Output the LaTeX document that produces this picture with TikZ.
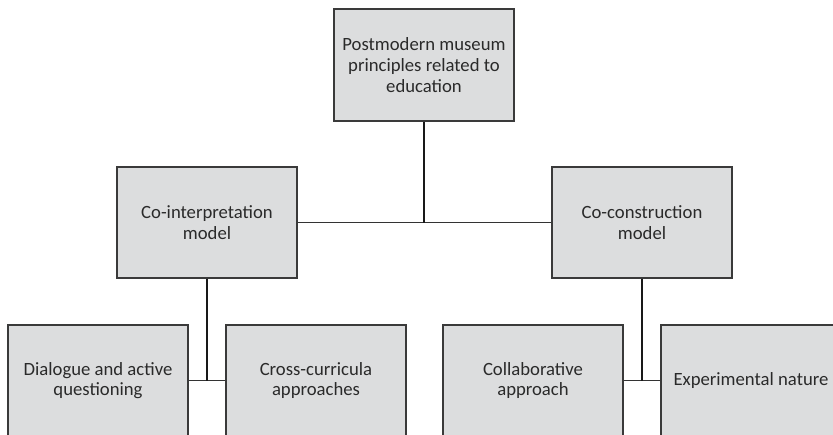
\documentclass[tikz,border=0pt]{standalone}
\usepackage{fontspec}
\setmainfont{Carlito}
\definecolor{boxfill}{HTML}{DCDDDE}
\definecolor{boxline}{HTML}{3A3A3A}
\definecolor{txt}{HTML}{2A2A2A}
\begin{document}
\begin{tikzpicture}[x=1pt,y=-1pt,
  box/.style={draw=boxline,fill=boxfill,line width=1.3pt,minimum width=180pt,minimum height=111pt,
    inner sep=0pt,align=center,text=txt,font=\fontsize{18.7}{20.7}\selectfont},
  vconn/.style={draw=black!90,line width=2pt},
  hconn/.style={draw=black!80,line width=1.4pt}]
\useasboundingbox (0,0) rectangle (833,434);
\fill[white] (0,0) rectangle (833,434);
\clip (0,0) rectangle (833,434);
\node[box,minimum height=112pt] (top) at (424,65) {Postmodern museum\\principles related to\\education};
\node[box] (ci) at (207,222.5) {Co-interpretation\\model};
\node[box] (cc) at (642,222.5) {Co-construction\\model};
\node[box] (dq) at (98,380.5) {Dialogue and active\\questioning};
\node[box] (cr) at (316,380.5) {Cross-curricula\\approaches};
\node[box] (co) at (533,380.5) {Collaborative\\approach};
\node[box] (ex) at (751,380.5) {Experimental nature};
\coordinate (j0) at (top.south |- ci.east);
\draw[hconn] (ci.east) -- (cc.west);
\draw[vconn] (top.south) -- (j0);
\coordinate (j1) at (ci.south |- dq.east);
\coordinate (j2) at (cc.south |- co.east);
\draw[hconn] (dq.east) -- (cr.west);
\draw[hconn] (co.east) -- (ex.west);
\draw[vconn] (ci.south) -- (j1);
\draw[vconn] (cc.south) -- (j2);
\end{tikzpicture}
\end{document}
